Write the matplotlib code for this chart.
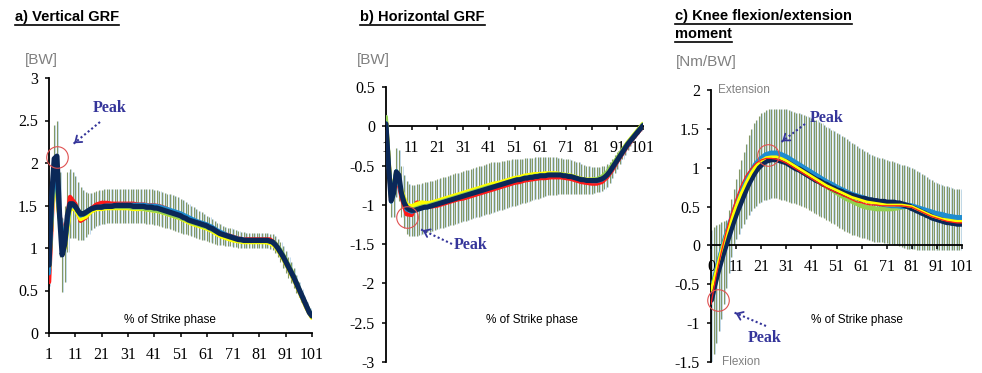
import numpy as np
import matplotlib.pyplot as plt
from matplotlib.lines import Line2D
from matplotlib.patches import FancyArrowPatch
from matplotlib.ticker import FuncFormatter

plt.rcParams['font.family'] = 'Liberation Sans'
plt.rcParams['axes.unicode_minus'] = False

W, H = 982, 373

#### data

pct = np.arange(1, 102)          # every 1 % (mean of dark series + SD bars)
pct_odd = np.arange(1, 102, 2)   # every 2 % (other series)
xticks = np.arange(1, 102, 10)
xlabels_ab = [str(v) for v in xticks]
xlabels_c = ['0'] + [str(v) for v in xticks[1:]]

# a) vertical GRF
a_navy = [0.80, 1.60, 2.05, 2.08, 1.40, 0.92, 1.05, 1.38, 1.52, 1.52,
          1.49, 1.44, 1.40, 1.40, 1.42, 1.44, 1.46, 1.47, 1.48, 1.48,
          1.48, 1.49, 1.49, 1.49, 1.49, 1.50, 1.50, 1.50, 1.50, 1.50,
          1.50, 1.50, 1.49, 1.49, 1.49, 1.49, 1.49, 1.48, 1.48, 1.48,
          1.47, 1.47, 1.46, 1.45, 1.44, 1.43, 1.42, 1.41, 1.40, 1.39,
          1.38, 1.36, 1.35, 1.33, 1.32, 1.31, 1.30, 1.29, 1.28, 1.27,
          1.26, 1.24, 1.23, 1.21, 1.19, 1.17, 1.16, 1.15, 1.14, 1.13,
          1.12, 1.11, 1.10, 1.10, 1.09, 1.09, 1.09, 1.09, 1.09, 1.09,
          1.09, 1.09, 1.09, 1.09, 1.08, 1.07, 1.04, 1.00, 0.95, 0.90,
          0.84, 0.78, 0.72, 0.66, 0.59, 0.52, 0.45, 0.38, 0.31, 0.24, 0.20]
a_hi = [1.05, 2.00, 2.45, 2.50, 1.90, 1.35, 1.50, 1.90, 1.93, 1.90,
        1.85, 1.78, 1.72, 1.68, 1.66, 1.65, 1.65, 1.66, 1.67, 1.68,
        1.68, 1.69, 1.69, 1.70, 1.70, 1.70, 1.70, 1.70, 1.70, 1.70,
        1.70, 1.70, 1.70, 1.70, 1.70, 1.70, 1.70, 1.69, 1.69, 1.69,
        1.68, 1.68, 1.67, 1.66, 1.65, 1.64, 1.63, 1.62, 1.61, 1.60,
        1.58, 1.56, 1.54, 1.52, 1.50, 1.48, 1.46, 1.44, 1.42, 1.40,
        1.38, 1.36, 1.34, 1.32, 1.30, 1.28, 1.26, 1.25, 1.24, 1.23,
        1.22, 1.21, 1.20, 1.19, 1.19, 1.18, 1.18, 1.18, 1.18, 1.18,
        1.18, 1.18, 1.18, 1.18, 1.17, 1.16, 1.14, 1.11, 1.07, 1.02,
        0.96, 0.90, 0.83, 0.76, 0.68, 0.60, 0.52, 0.44, 0.36, 0.29, 0.24]
a_lo = [0.55, 1.20, 1.60, 1.65, 0.90, 0.48, 0.60, 0.95, 1.12, 1.12,
        1.12, 1.10, 1.09, 1.10, 1.13, 1.17, 1.21, 1.24, 1.26, 1.27,
        1.28, 1.28, 1.29, 1.29, 1.29, 1.30, 1.30, 1.30, 1.30, 1.30,
        1.30, 1.30, 1.29, 1.29, 1.29, 1.29, 1.29, 1.28, 1.28, 1.28,
        1.27, 1.27, 1.26, 1.25, 1.24, 1.23, 1.22, 1.21, 1.20, 1.19,
        1.18, 1.17, 1.16, 1.15, 1.14, 1.13, 1.12, 1.11, 1.10, 1.09,
        1.08, 1.07, 1.06, 1.05, 1.04, 1.03, 1.03, 1.02, 1.02, 1.02,
        1.01, 1.01, 1.00, 1.00, 1.00, 1.00, 1.00, 1.00, 1.00, 1.00,
        1.00, 1.00, 1.00, 1.00, 0.99, 0.98, 0.94, 0.89, 0.83, 0.77,
        0.71, 0.65, 0.59, 0.53, 0.47, 0.42, 0.36, 0.31, 0.26, 0.21, 0.17]
a_red = [0.60, 2.00, 1.38, 1.10, 1.60, 1.52, 1.32, 1.36, 1.46, 1.51,
         1.53, 1.53, 1.52, 1.52, 1.52, 1.52, 1.52, 1.51, 1.51, 1.50,
         1.50, 1.49, 1.47, 1.44, 1.41, 1.39, 1.36, 1.33, 1.31, 1.29,
         1.27, 1.24, 1.20, 1.17, 1.15, 1.13, 1.11, 1.10, 1.10, 1.10,
         1.10, 1.10, 1.10, 1.05, 0.95, 0.83, 0.71, 0.58, 0.44, 0.30, 0.19]
a_yellow = [0.76, 1.98, 1.36, 1.00, 1.46, 1.46, 1.34, 1.37, 1.43, 1.46,
            1.46, 1.47, 1.47, 1.47, 1.47, 1.47, 1.46, 1.46, 1.46, 1.45,
            1.44, 1.43, 1.41, 1.39, 1.37, 1.35, 1.32, 1.29, 1.27, 1.25,
            1.23, 1.20, 1.16, 1.13, 1.11, 1.09, 1.08, 1.07, 1.07, 1.07,
            1.07, 1.07, 1.06, 1.02, 0.93, 0.82, 0.70, 0.57, 0.43, 0.29, 0.18]
a_green = [0.72, 2.02, 1.38, 1.02, 1.50, 1.48, 1.38, 1.40, 1.45, 1.47,
           1.47, 1.48, 1.48, 1.48, 1.48, 1.48, 1.47, 1.47, 1.46, 1.45,
           1.44, 1.43, 1.41, 1.39, 1.37, 1.35, 1.33, 1.30, 1.28, 1.26,
           1.24, 1.21, 1.18, 1.15, 1.13, 1.11, 1.09, 1.08, 1.08, 1.08,
           1.08, 1.08, 1.08, 1.06, 0.98, 0.87, 0.75, 0.61, 0.46, 0.32, 0.20]
a_blue = [0.70, 2.05, 1.40, 1.04, 1.51, 1.48, 1.38, 1.41, 1.46, 1.48,
          1.49, 1.50, 1.50, 1.51, 1.51, 1.51, 1.51, 1.51, 1.51, 1.50,
          1.50, 1.49, 1.47, 1.45, 1.43, 1.41, 1.38, 1.35, 1.32, 1.30,
          1.28, 1.25, 1.21, 1.18, 1.15, 1.13, 1.11, 1.10, 1.09, 1.09,
          1.09, 1.09, 1.08, 1.04, 0.95, 0.84, 0.72, 0.59, 0.45, 0.31, 0.20]

# b) horizontal GRF
b_navy = [0.03, -0.50, -0.95, -0.85, -0.58, -0.62, -0.85, -0.97, -1.03, -1.06,
          -1.07, -1.07, -1.06, -1.05, -1.04, -1.03, -1.03, -1.02, -1.01, -1.00,
          -0.99, -0.98, -0.97, -0.96, -0.95, -0.94, -0.93, -0.92, -0.91, -0.90,
          -0.89, -0.88, -0.87, -0.86, -0.85, -0.84, -0.83, -0.82, -0.81, -0.80,
          -0.79, -0.78, -0.77, -0.76, -0.75, -0.74, -0.73, -0.72, -0.71, -0.70,
          -0.69, -0.68, -0.68, -0.67, -0.66, -0.66, -0.65, -0.65, -0.64, -0.64,
          -0.63, -0.63, -0.63, -0.62, -0.62, -0.62, -0.62, -0.62, -0.62, -0.63,
          -0.63, -0.64, -0.64, -0.65, -0.66, -0.67, -0.68, -0.68, -0.69, -0.69,
          -0.69, -0.69, -0.69, -0.68, -0.67, -0.65, -0.62, -0.58, -0.53, -0.48,
          -0.43, -0.38, -0.33, -0.28, -0.23, -0.19, -0.15, -0.11, -0.07, -0.03, 0.01]
b_hi = [0.15, -0.30, -0.70, -0.55, -0.28, -0.30, -0.50, -0.62, -0.70, -0.74,
        -0.75, -0.75, -0.74, -0.73, -0.72, -0.71, -0.71, -0.70, -0.69, -0.68,
        -0.67, -0.66, -0.65, -0.64, -0.63, -0.62, -0.61, -0.60, -0.59, -0.58,
        -0.57, -0.56, -0.55, -0.54, -0.53, -0.52, -0.51, -0.50, -0.49, -0.48,
        -0.47, -0.46, -0.46, -0.45, -0.45, -0.44, -0.44, -0.43, -0.43, -0.42,
        -0.42, -0.41, -0.41, -0.41, -0.40, -0.40, -0.40, -0.40, -0.39, -0.39,
        -0.39, -0.39, -0.39, -0.39, -0.39, -0.39, -0.39, -0.40, -0.40, -0.41,
        -0.41, -0.42, -0.43, -0.44, -0.45, -0.46, -0.48, -0.49, -0.50, -0.51,
        -0.52, -0.52, -0.52, -0.52, -0.51, -0.50, -0.48, -0.45, -0.41, -0.37,
        -0.33, -0.29, -0.25, -0.21, -0.17, -0.14, -0.11, -0.08, -0.05, -0.01, 0.04]
b_lo = [-0.05, -0.70, -1.15, -1.15, -0.90, -0.95, -1.15, -1.30, -1.37, -1.40,
        -1.40, -1.40, -1.39, -1.38, -1.37, -1.36, -1.35, -1.34, -1.33, -1.32,
        -1.31, -1.30, -1.29, -1.28, -1.27, -1.26, -1.25, -1.24, -1.23, -1.22,
        -1.21, -1.20, -1.19, -1.18, -1.17, -1.16, -1.15, -1.14, -1.13, -1.12,
        -1.11, -1.10, -1.09, -1.08, -1.07, -1.06, -1.05, -1.04, -1.03, -1.02,
        -1.01, -1.00, -0.99, -0.98, -0.97, -0.96, -0.95, -0.94, -0.93, -0.92,
        -0.91, -0.90, -0.89, -0.88, -0.88, -0.87, -0.87, -0.86, -0.86, -0.86,
        -0.86, -0.86, -0.86, -0.86, -0.86, -0.86, -0.86, -0.86, -0.86, -0.86,
        -0.86, -0.85, -0.84, -0.83, -0.82, -0.80, -0.77, -0.72, -0.66, -0.60,
        -0.54, -0.48, -0.42, -0.36, -0.30, -0.25, -0.20, -0.15, -0.10, -0.06, -0.02]
b_red = [0.05, -0.95, -0.60, -0.90, -1.12, -1.13, -0.97, -0.98, -1.02, -1.02,
         -1.01, -0.99, -0.97, -0.95, -0.93, -0.92, -0.90, -0.88, -0.86, -0.84,
         -0.82, -0.80, -0.78, -0.76, -0.74, -0.72, -0.71, -0.69, -0.68, -0.67,
         -0.66, -0.66, -0.65, -0.65, -0.65, -0.66, -0.67, -0.69, -0.71, -0.72,
         -0.73, -0.73, -0.71, -0.65, -0.56, -0.45, -0.35, -0.25, -0.16, -0.08, 0.00]
b_yellow = [0.06, -0.92, -0.58, -0.82, -1.00, -1.02, -0.99, -0.97, -0.98, -0.97,
            -0.95, -0.93, -0.91, -0.89, -0.87, -0.85, -0.83, -0.81, -0.79, -0.77,
            -0.75, -0.73, -0.72, -0.70, -0.68, -0.66, -0.65, -0.63, -0.62, -0.61,
            -0.61, -0.60, -0.60, -0.60, -0.61, -0.62, -0.63, -0.65, -0.67, -0.68,
            -0.68, -0.68, -0.66, -0.60, -0.51, -0.41, -0.31, -0.21, -0.13, -0.05, 0.03]
b_green = [0.12, -0.93, -0.57, -0.84, -1.02, -1.06, -1.04, -1.02, -1.01, -0.99,
           -0.97, -0.95, -0.93, -0.91, -0.89, -0.87, -0.85, -0.83, -0.81, -0.79,
           -0.77, -0.76, -0.74, -0.72, -0.70, -0.68, -0.67, -0.65, -0.64, -0.63,
           -0.62, -0.62, -0.61, -0.61, -0.61, -0.62, -0.63, -0.65, -0.67, -0.68,
           -0.68, -0.67, -0.64, -0.58, -0.49, -0.40, -0.30, -0.21, -0.13, -0.05, 0.03]
b_blue = [0.04, -0.96, -0.57, -0.86, -1.06, -1.09, -1.06, -1.04, -1.03, -1.01,
          -0.99, -0.97, -0.95, -0.93, -0.91, -0.89, -0.87, -0.85, -0.83, -0.81,
          -0.79, -0.77, -0.75, -0.73, -0.71, -0.69, -0.68, -0.66, -0.65, -0.64,
          -0.63, -0.63, -0.62, -0.62, -0.62, -0.63, -0.64, -0.66, -0.68, -0.69,
          -0.70, -0.70, -0.68, -0.63, -0.54, -0.44, -0.34, -0.24, -0.15, -0.07, 0.01]

# c) knee flexion/extension moment
c_navy = [-0.70, -0.55, -0.42, -0.30, -0.19, -0.08, 0.02, 0.12, 0.22, 0.32,
          0.41, 0.49, 0.57, 0.65, 0.73, 0.80, 0.86, 0.92, 0.97, 1.01,
          1.04, 1.07, 1.09, 1.10, 1.11, 1.11, 1.11, 1.10, 1.09, 1.08,
          1.07, 1.05, 1.03, 1.01, 0.99, 0.98, 0.96, 0.94, 0.92, 0.90,
          0.88, 0.86, 0.84, 0.83, 0.81, 0.79, 0.78, 0.76, 0.74, 0.73,
          0.71, 0.70, 0.69, 0.67, 0.66, 0.65, 0.64, 0.63, 0.62, 0.61,
          0.60, 0.60, 0.59, 0.58, 0.58, 0.57, 0.57, 0.56, 0.56, 0.56,
          0.55, 0.55, 0.55, 0.55, 0.54, 0.54, 0.53, 0.52, 0.51, 0.50,
          0.48, 0.47, 0.45, 0.44, 0.42, 0.41, 0.39, 0.38, 0.36, 0.35,
          0.34, 0.33, 0.32, 0.31, 0.30, 0.30, 0.29, 0.29, 0.28, 0.28, 0.28]
c_hi = [0.20, 0.24, 0.26, 0.28, 0.30, 0.31, 0.33, 0.45, 0.60, 0.72,
        0.85, 0.98, 1.10, 1.20, 1.31, 1.42, 1.50, 1.57, 1.62, 1.67,
        1.70, 1.72, 1.74, 1.75, 1.76, 1.76, 1.76, 1.76, 1.76, 1.75,
        1.75, 1.74, 1.73, 1.72, 1.71, 1.70, 1.69, 1.68, 1.66, 1.65,
        1.64, 1.62, 1.61, 1.59, 1.57, 1.55, 1.53, 1.51, 1.49, 1.47,
        1.45, 1.43, 1.41, 1.39, 1.37, 1.34, 1.32, 1.30, 1.28, 1.26,
        1.24, 1.22, 1.20, 1.18, 1.17, 1.15, 1.14, 1.13, 1.12, 1.11,
        1.10, 1.09, 1.08, 1.07, 1.06, 1.05, 1.04, 1.03, 1.02, 1.01,
        1.00, 0.98, 0.96, 0.94, 0.92, 0.90, 0.88, 0.86, 0.84, 0.82,
        0.80, 0.79, 0.78, 0.77, 0.76, 0.75, 0.74, 0.73, 0.72, 0.72, 0.71]
c_lo = [-1.50, -1.40, -1.25, -1.10, -0.95, -0.75, -0.55, -0.35, -0.15, 0.00,
        0.08, 0.15, 0.22, 0.28, 0.34, 0.39, 0.44, 0.48, 0.51, 0.54,
        0.56, 0.58, 0.59, 0.60, 0.61, 0.61, 0.61, 0.60, 0.59, 0.58,
        0.57, 0.56, 0.55, 0.54, 0.53, 0.52, 0.51, 0.50, 0.48, 0.46,
        0.44, 0.42, 0.40, 0.38, 0.37, 0.35, 0.33, 0.31, 0.29, 0.27,
        0.25, 0.23, 0.21, 0.19, 0.17, 0.16, 0.14, 0.13, 0.12, 0.11,
        0.10, 0.09, 0.08, 0.07, 0.06, 0.05, 0.05, 0.04, 0.04, 0.03,
        0.03, 0.02, 0.02, 0.01, 0.00, -0.01, -0.02, -0.03, -0.04, -0.05,
        -0.05, -0.05, -0.06, -0.06, -0.06, -0.06, -0.06, -0.06, -0.06, -0.06,
        -0.06, -0.06, -0.06, -0.06, -0.06, -0.06, -0.06, -0.06, -0.06, -0.06, -0.06]
c_red = [-0.76, -0.40, -0.10, 0.17, 0.40, 0.60, 0.77, 0.90, 0.99, 1.06,
         1.10, 1.12, 1.12, 1.11, 1.09, 1.06, 1.02, 0.98, 0.94, 0.90,
         0.86, 0.82, 0.78, 0.74, 0.71, 0.68, 0.65, 0.62, 0.59, 0.56,
         0.55, 0.53, 0.52, 0.52, 0.51, 0.51, 0.51, 0.51, 0.51, 0.50,
         0.49, 0.46, 0.43, 0.40, 0.37, 0.35, 0.33, 0.31, 0.30, 0.29, 0.29]
c_yellow = [-0.58, -0.33, -0.08, 0.14, 0.33, 0.51, 0.67, 0.81, 0.93, 1.03,
            1.09, 1.13, 1.14, 1.14, 1.12, 1.09, 1.05, 1.01, 0.97, 0.93,
            0.89, 0.85, 0.81, 0.77, 0.74, 0.71, 0.68, 0.65, 0.62, 0.60,
            0.58, 0.56, 0.55, 0.54, 0.53, 0.52, 0.52, 0.52, 0.52, 0.51,
            0.50, 0.47, 0.44, 0.41, 0.38, 0.36, 0.34, 0.33, 0.32, 0.31, 0.31]
c_green = [-0.62, -0.36, -0.11, 0.12, 0.32, 0.50, 0.66, 0.80, 0.92, 1.02,
           1.08, 1.12, 1.13, 1.13, 1.11, 1.08, 1.04, 1.00, 0.96, 0.92,
           0.88, 0.84, 0.80, 0.76, 0.72, 0.68, 0.64, 0.60, 0.57, 0.54,
           0.51, 0.49, 0.48, 0.47, 0.47, 0.47, 0.47, 0.48, 0.49, 0.50,
           0.49, 0.47, 0.44, 0.41, 0.38, 0.36, 0.34, 0.32, 0.31, 0.30, 0.30]
c_blue = [-0.68, -0.38, -0.13, 0.10, 0.30, 0.49, 0.65, 0.80, 0.93, 1.04,
          1.11, 1.16, 1.18, 1.18, 1.16, 1.13, 1.09, 1.05, 1.01, 0.97,
          0.93, 0.89, 0.85, 0.81, 0.78, 0.74, 0.71, 0.68, 0.65, 0.63,
          0.61, 0.59, 0.57, 0.55, 0.54, 0.53, 0.52, 0.52, 0.51, 0.51,
          0.50, 0.48, 0.46, 0.44, 0.42, 0.40, 0.39, 0.37, 0.36, 0.35, 0.35]

# peak markers (x %, value)
a_peak = [(4.0, 2.07)]
b_peak = [(9.2, -1.15)]
c_peak = [(23.7, 1.17), (3.8, -0.70)]


#### styling

col_red = '#ff1a1a'
col_yellow = '#ffff00'
col_green = '#92d050'
col_blue = '#1f8dd0'
col_navy = '#0b2858'
col_bar = '#849866'
col_bar2 = '#b4d2ea'
col_peak = '#35359a'
col_grey = '#808080'
serif = 'Liberation Serif'


def fx(px):
    return px / W


def fy(py):
    return 1 - py / H


def yfmt(v, pos):
    return '%g' % v


def draw_panel(ax, navy, hi, lo, lines, peaks, ylim, xlabels):
    ax.vlines(pct + 0.45, lo, hi, colors=col_bar2, lw=0.55, zorder=1)
    ax.vlines(pct, lo, hi, colors=col_bar, lw=0.8, zorder=1.5)
    for vals, xs, col, lw in lines:
        ax.plot(xs, vals, color=col, lw=lw, solid_capstyle='round', zorder=3)
    for px_, py_ in peaks:
        ax.plot(px_, py_, 'o', ms=15.5, mfc='none', mec='#e05050', mew=0.8,
                zorder=6, clip_on=False)
    ax.set_xlim(1, 101)
    ax.set_ylim(*ylim)
    ax.set_yticks(np.arange(ylim[0], ylim[1] + 0.01, 0.5))
    ax.yaxis.set_major_formatter(FuncFormatter(yfmt))
    ax.set_xticks(xticks)
    ax.set_xticklabels(xlabels)
    for s in ['top', 'right']:
        ax.spines[s].set_visible(False)
    ax.spines['bottom'].set_position(('data', 0))
    for s in ['left', 'bottom']:
        ax.spines[s].set_linewidth(1.3)
        ax.spines[s].set_zorder(2.5)
    ax.tick_params(axis='both', direction='out', length=3, width=1.1,
                   labelsize=11.5, labelfontfamily=serif)
    ax.tick_params(axis='x', pad=7)
    ax.tick_params(axis='y', pad=5)
    ax.patch.set_visible(False)


fig = plt.figure(figsize=(W / 100, H / 100), dpi=100)

ax_a = fig.add_axes([fx(49), fy(333), fx(312) - fx(49), fy(78) - fy(333)])
ax_b = fig.add_axes([fx(386), fy(362), fx(643) - fx(386), fy(87) - fy(362)])
ax_c = fig.add_axes([fx(711), fy(362), fx(962) - fx(711), fy(90) - fy(362)])

draw_panel(ax_a, a_navy, a_hi, a_lo,
           [(a_red, pct_odd, col_red, 3.2), (a_yellow, pct_odd, col_yellow, 3.2),
            (a_green, pct_odd, col_green, 2.8), (a_blue, pct_odd, col_blue, 2.8),
            (a_navy, pct, col_navy, 3.8)],
           a_peak, (0, 3), xlabels_ab)
draw_panel(ax_b, b_navy, b_hi, b_lo,
           [(b_red, pct_odd, col_red, 3.0), (b_yellow, pct_odd, col_yellow, 3.2),
            (b_green, pct_odd, col_green, 2.8), (b_blue, pct_odd, col_blue, 2.8),
            (b_navy, pct, col_navy, 3.6)],
           b_peak, (-3, 0.5), xlabels_ab)
draw_panel(ax_c, c_navy, c_hi, c_lo,
           [(c_green, pct_odd, col_green, 3.5), (c_blue, pct_odd, col_blue, 4.6),
            (c_navy, pct, col_navy, 4.4), (c_yellow, pct_odd, col_yellow, 2.0),
            (c_red, pct_odd, col_red, 0.9)],
           c_peak, (-1.5, 2), xlabels_c)

# titles (underlined)
tsize = 10.5
titles = [
    fig.text(fx(15), fy(17), 'a) Vertical GRF', fontsize=tsize, fontweight='bold', va='center'),
    fig.text(fx(360), fy(17), 'b) Horizontal GRF', fontsize=tsize, fontweight='bold', va='center'),
    fig.text(fx(675), fy(16), 'c) Knee flexion/extension', fontsize=tsize, fontweight='bold', va='center'),
    fig.text(fx(675), fy(34), 'moment', fontsize=tsize, fontweight='bold', va='center'),
]

# units
fig.text(fx(25), fy(60), '[BW]', fontsize=11, color=col_grey, va='center')
fig.text(fx(357), fy(60), '[BW]', fontsize=11, color=col_grey, va='center')
fig.text(fx(676), fy(62), '[Nm/BW]', fontsize=11, color=col_grey, va='center')

# x axis names
for cx in [170, 532, 857]:
    fig.text(fx(cx), fy(320), '% of Strike phase', fontsize=8.5, ha='center', va='center')

fig.text(fx(718), fy(90), 'Extension', fontsize=8.5, color=col_grey, va='center')
fig.text(fx(722), fy(362), 'Flexion', fontsize=8.5, color=col_grey, va='center')

# "Peak" call-outs
peak_notes = [((110, 108), (100, 122), (72, 145)),
              ((471, 245), (452, 244), (420, 229)),
              ((827, 118), (805, 124), (780, 143)),
              ((765, 338), (766, 326), (733, 312))]
for (tx, ty), (sx, sy), (ex, ey) in peak_notes:
    fig.text(fx(tx), fy(ty), 'Peak', fontsize=11.5, fontweight='bold', family=serif,
             color=col_peak, ha='center', va='center')
    fig.add_artist(Line2D([fx(sx), fx(ex)], [fy(sy), fy(ey)], ls=(0, (1, 1.2)),
                          lw=1.5, color=col_peak, transform=fig.transFigure))
    ux, uy = (ex - sx), (ey - sy)
    n = np.hypot(ux, uy)
    hx, hy = ex - ux / n * 8, ey - uy / n * 8
    fig.add_artist(FancyArrowPatch(
        (fx(hx), fy(hy)), (fx(ex), fy(ey)), transform=fig.transFigure,
        arrowstyle='->,head_length=4,head_width=3', lw=1.3, color=col_peak,
        mutation_scale=1))

fig.canvas.draw()
r = fig.canvas.get_renderer()
for t in titles:
    bb = t.get_window_extent(r)
    y = bb.y0 - 1
    fig.add_artist(Line2D([bb.x0 / W, bb.x1 / W], [y / H, y / H], lw=1.2,
                          color='black', transform=fig.transFigure))

fig.savefig('out.png', dpi=100)
